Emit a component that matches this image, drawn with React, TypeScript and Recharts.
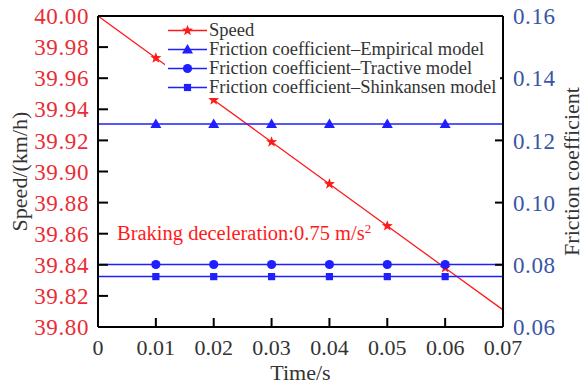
import {
  LineChart,
  Line,
  XAxis,
  YAxis,
  Legend,
  ReferenceLine,
} from "recharts";

const times = [0, 0.01, 0.02, 0.03, 0.04, 0.05, 0.06, 0.07];
const speed = [40.0, 39.973, 39.946, 39.919, 39.892, 39.865, 39.838, 39.811];
const empirical = [0.1253, 0.1253, 0.1253, 0.1253, 0.1253, 0.1253, 0.1253, 0.1253];
const tractive = [0.0801, 0.0801, 0.0801, 0.0801, 0.0801, 0.0801, 0.0801, 0.0801];
const shinkansen = [0.0762, 0.0762, 0.0762, 0.0762, 0.0762, 0.0762, 0.0762, 0.0762];

const xTicks = [0, 0.01, 0.02, 0.03, 0.04, 0.05, 0.06, 0.07];
const speedTicks = [39.8, 39.82, 39.84, 39.86, 39.88, 39.9, 39.92, 39.94, 39.96, 39.98, 40.0];
const frictionTicks = [0.06, 0.08, 0.1, 0.12, 0.14, 0.16];

const legendOrder = ["speed", "empirical", "tractive", "shinkansen"];

const data = times.map((t, i) => ({
  t,
  speed: speed[i],
  empirical: empirical[i],
  tractive: tractive[i],
  shinkansen: shinkansen[i],
}));

const FONT = "'Liberation Serif', 'Times New Roman', serif";
const RED = "#ff1a1a";
const BLUE = "#1f1fff";

type Shape = "star" | "triangle" | "circle" | "square";

const shapes: Record<string, Shape> = {
  speed: "star",
  empirical: "triangle",
  tractive: "circle",
  shinkansen: "square",
};

function marker(shape: Shape, cx: number, cy: number, color: string) {
  if (shape === "star") {
    const pts: string[] = [];
    for (let k = 0; k < 10; k++) {
      const r = k % 2 === 0 ? 5.8 : 2.4;
      const a = -Math.PI / 2 + (k * Math.PI) / 5;
      pts.push(`${cx + r * Math.cos(a)},${cy + r * Math.sin(a)}`);
    }
    return <polygon points={pts.join(" ")} fill={color} />;
  }
  if (shape === "triangle") {
    return <polygon points={`${cx},${cy - 5.5} ${cx - 5.5},${cy + 4} ${cx + 5.5},${cy + 4}`} fill={color} />;
  }
  if (shape === "circle") return <circle cx={cx} cy={cy} r={4.6} fill={color} />;
  return <rect x={cx - 3.6} y={cy - 3.6} width={7.2} height={7.2} fill={color} />;
}

function makeDot(shape: Shape, color: string) {
  return (props: any) => {
    const { cx, cy, index } = props;
    if (index === 0 || index === times.length - 1) return <g key={`d${index}`} />;
    return <g key={`d${index}`}>{marker(shape, cx, cy, color)}</g>;
  };
}

function LegendBox({ payload }: any) {
  const items = [...(payload || [])].sort(
    (a: any, b: any) => legendOrder.indexOf(a.dataKey) - legendOrder.indexOf(b.dataKey)
  );
  return (
    <div style={{ background: "#fff", padding: "2px 0 1px 3px", fontFamily: FONT, textAlign: "left" }}>
      {items.map((p: any) => (
        <div key={p.dataKey} style={{ display: "flex", alignItems: "center", height: 19 }}>
          <svg width={39} height={19} style={{ flex: "none" }}>
            <line x1={0} y1={9.5} x2={39} y2={9.5} stroke={p.color} strokeWidth={1.5} />
            {marker(shapes[p.dataKey], 19.5, 9.5, p.color)}
          </svg>
          <span
            style={{
              marginLeft: 2,
              fontSize: 18.5,
              lineHeight: "19px",
              color: "#333",
              whiteSpace: "nowrap",
            }}
          >
            {p.value}
          </span>
        </div>
      ))}
    </div>
  );
}

function SideTitle({ viewBox, text, px }: any) {
  const cy = viewBox.y + viewBox.height / 2;
  return (
    <text
      x={px}
      y={cy}
      transform={`rotate(-90 ${px} ${cy})`}
      textAnchor="middle"
      dominantBaseline="central"
      fill="#333"
      fontSize={22}
      fontFamily={FONT}
    >
      {text}
    </text>
  );
}

function BottomTitle({ viewBox, text }: any) {
  const cx = viewBox.x + viewBox.width / 2;
  return (
    <text x={cx} y={380} textAnchor="middle" fill="#333" fontSize={22} fontFamily={FONT}>
      {text}
    </text>
  );
}

export default function App() {
  return (
    <div style={{ position: "absolute", left: 0, top: 0, width: 583, height: 384, background: "#fff" }}>
      <LineChart width={583} height={384} data={data} margin={{ top: 16, right: 0, bottom: 0, left: 0 }}>
        <XAxis
          dataKey="t"
          type="number"
          domain={[0, 0.07]}
          ticks={xTicks}
          tickFormatter={(v: number) => (v === 0 ? "0" : v.toFixed(2))}
          height={57}
          tickSize={-9}
          tickMargin={21}
          tickLine={{ stroke: "#000", strokeWidth: 2 }}
          axisLine={{ stroke: "#000", strokeWidth: 2 }}
          tick={{ fill: "#333", fontSize: 22, fontFamily: FONT }}
          interval={0}
          label={<BottomTitle text="Time/s" />}
        />
        <YAxis
          yAxisId="left"
          domain={[39.8, 40]}
          ticks={speedTicks}
          tickFormatter={(v: number) => v.toFixed(2)}
          width={98}
          tickSize={-10}
          tickMargin={19}
          tickLine={{ stroke: "#000", strokeWidth: 2 }}
          axisLine={{ stroke: "#000", strokeWidth: 2 }}
          tick={{ fill: "#ea2c35", fontSize: 23, fontFamily: FONT, letterSpacing: 0.6 }}
          interval={0}
          label={<SideTitle text="Speed/(km/h)" px={19} />}
        />
        <YAxis
          yAxisId="right"
          orientation="right"
          domain={[0.06, 0.16]}
          ticks={frictionTicks}
          tickFormatter={(v: number) => v.toFixed(2)}
          width={80}
          tickSize={-8}
          tickMargin={18}
          tickLine={{ stroke: "#000", strokeWidth: 2 }}
          axisLine={{ stroke: "#000", strokeWidth: 2 }}
          tick={{ fill: "#3a55a6", fontSize: 23, fontFamily: FONT, letterSpacing: 0.6 }}
          interval={0}
          label={<SideTitle text="Friction coefficient" px={571} />}
        />
        <ReferenceLine yAxisId="left" y={40} stroke="#000" strokeWidth={2} />
        <Line
          yAxisId="left"
          type="linear"
          dataKey="speed"
          name="Speed"
          stroke={RED}
          strokeWidth={1.3}
          dot={makeDot("star", RED)}
          isAnimationActive={false}
        />
        <Line
          yAxisId="right"
          type="linear"
          dataKey="empirical"
          name="Friction coefficient–Empirical model"
          stroke={BLUE}
          strokeWidth={1.5}
          dot={makeDot("triangle", BLUE)}
          isAnimationActive={false}
        />
        <Line
          yAxisId="right"
          type="linear"
          dataKey="tractive"
          name="Friction coefficient–Tractive model"
          stroke={BLUE}
          strokeWidth={1.5}
          dot={makeDot("circle", BLUE)}
          isAnimationActive={false}
        />
        <Line
          yAxisId="right"
          type="linear"
          dataKey="shinkansen"
          name="Friction coefficient–Shinkansen model"
          stroke={BLUE}
          strokeWidth={1.5}
          dot={makeDot("square", BLUE)}
          isAnimationActive={false}
        />
        <Legend
          layout="vertical"
          verticalAlign="middle"
          align="center"
          content={<LegendBox />}
          wrapperStyle={{ left: 165, top: 19, width: 335 }}
        />
      </LineChart>
      <div
        style={{
          position: "absolute",
          left: 117,
          top: 223,
          fontFamily: FONT,
          fontSize: 20.5,
          lineHeight: "20px",
          color: RED,
          whiteSpace: "nowrap",
        }}
      >
        Braking deceleration:0.75 m/s
        <sup style={{ fontSize: 13, lineHeight: 0, verticalAlign: "7px" }}>2</sup>
      </div>
    </div>
  );
}
